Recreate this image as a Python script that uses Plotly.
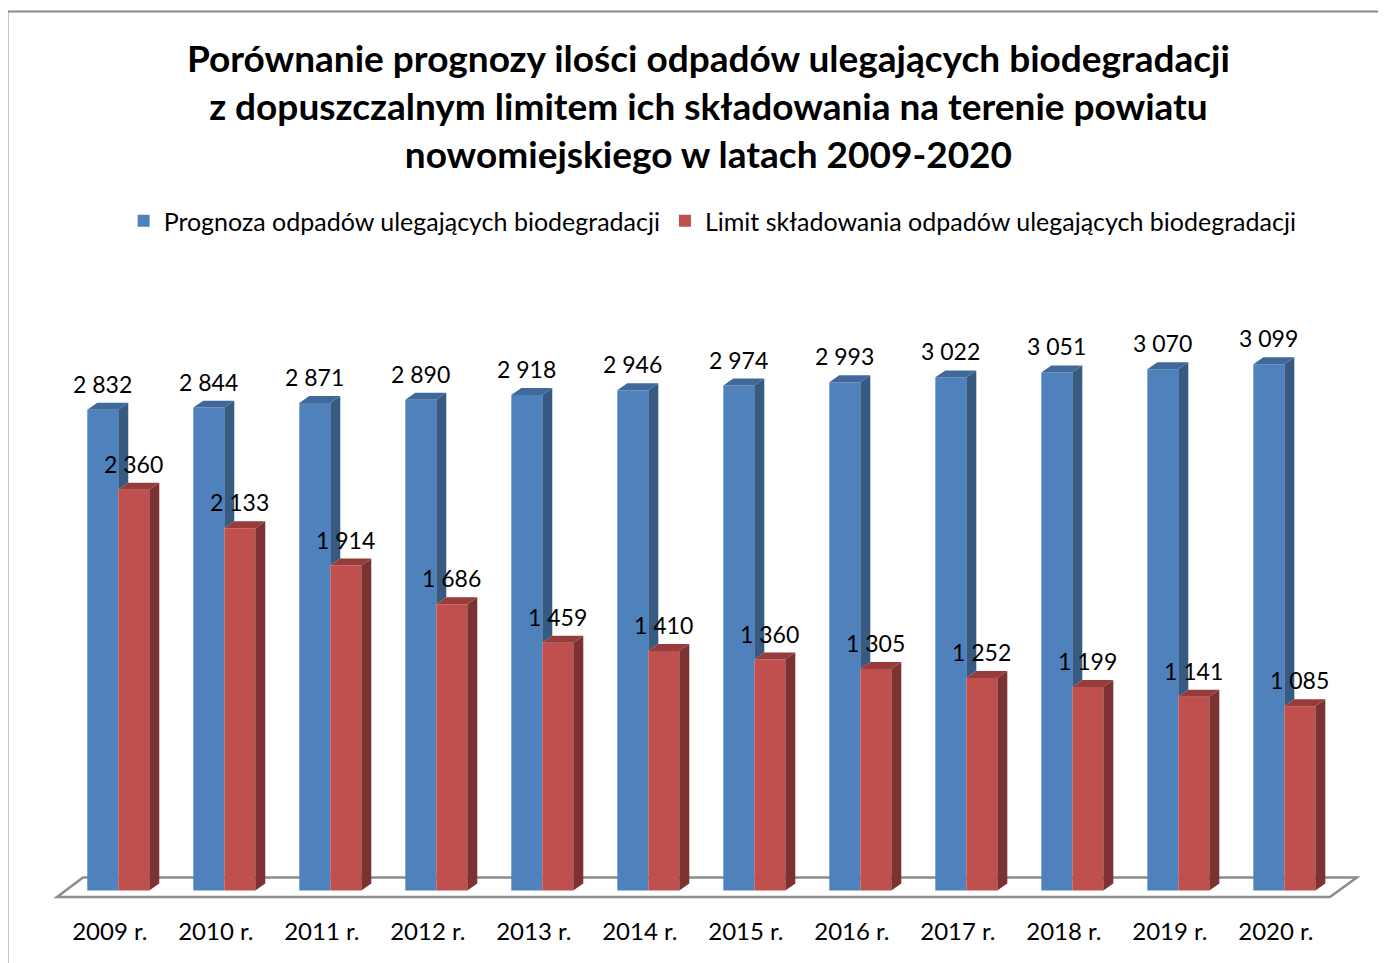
import plotly.graph_objects as go

years = ["2009 r.", "2010 r.", "2011 r.", "2012 r.", "2013 r.", "2014 r.",
         "2015 r.", "2016 r.", "2017 r.", "2018 r.", "2019 r.", "2020 r."]
prognoza = [2832, 2844, 2871, 2890, 2918, 2946, 2974, 2993, 3022, 3051, 3070, 3099]
limit = [2360, 2133, 1914, 1686, 1459, 1410, 1360, 1305, 1252, 1199, 1141, 1085]

name_blue = "Prognoza odpadów ulegających biodegradacji"
name_red = "Limit składowania odpadów ulegających biodegradacji"
title = ("Porównanie prognozy ilości odpadów ulegających biodegradacji<br>"
         "z dopuszczalnym limitem ich składowania na terenie powiatu<br>"
         "nowomiejskiego w latach 2009-2020")

FONT = "Lato"
BLUE, BLUE_TOP, BLUE_SIDE = "#4F81BD", "#40699A", "#375A82"
RED, RED_TOP, RED_SIDE = "#C0504D", "#973C3A", "#7B3230"

W = 0.2925   # bar width (category units)
DX = 0.094   # depth offset, x
DY = 41.0    # depth offset, y (value units)

idx = list(range(len(years)))


def fmt(v):
    return f"{v:,}".replace(",", " ")


def face(pts_list, color):
    xs, ys = [], []
    for pts in pts_list:
        for px, py in pts + [pts[0]]:
            xs.append(px)
            ys.append(py)
        xs.append(None)
        ys.append(None)
    return go.Scatter(x=xs, y=ys, mode="lines", fill="toself", fillcolor=color,
                      line=dict(width=0), hoverinfo="skip", showlegend=False)


fig = go.Figure()
fig.add_trace(go.Bar(x=idx, y=prognoza, offset=-W, width=W, name=name_blue,
                     marker=dict(color=BLUE, line=dict(width=0))))
fig.add_trace(go.Bar(x=idx, y=limit, offset=0, width=W, name=name_red,
                     marker=dict(color=RED, line=dict(width=0))))

# 3D side / top faces
blue_top = [[(i - W, b), (i - W + DX, b + DY), (i + DX, b + DY), (i, b)]
            for i, b in zip(idx, prognoza)]
blue_side = [[(i, min(r, b)), (i, b), (i + DX, b + DY), (i + DX, min(r, b) + DY)]
             for i, b, r in zip(idx, prognoza, limit)]
red_side = [[(i + W, 0), (i + W, r), (i + W + DX, r + DY), (i + W + DX, DY)]
            for i, r in zip(idx, limit)]
red_top = [[(i, r), (i + DX, r + DY), (i + W + DX, r + DY), (i + W, r)]
           for i, r in zip(idx, limit)]

fig.add_trace(face(blue_side, BLUE_SIDE))
fig.add_trace(face(blue_top, BLUE_TOP))
fig.add_trace(face(red_side, RED_SIDE))
fig.add_trace(face(red_top, RED_TOP))

lbl_font = dict(size=23, color="black", family=FONT)
for i, b, r in zip(idx, prognoza, limit):
    fig.add_annotation(x=i - W / 2, y=b, text=fmt(b), showarrow=False,
                       yanchor="middle", yshift=26, font=lbl_font)
    fig.add_annotation(x=i + W / 2, y=r, text=fmt(r), showarrow=False,
                       yanchor="middle", yshift=26, font=lbl_font)

# title
fig.add_annotation(text=title, xref="paper", yref="paper", x=0.4992, y=1.2366,
                   xanchor="center", yanchor="middle", showarrow=False,
                   font=dict(family=FONT, size=37, color="black", weight="bold"))

# floor of the 3D chart
fig.add_shape(type="path", xref="x", yref="y", layer="below",
              path="M -0.578,-38 L 11.43,-38 L 11.684,77 L -0.333,77 Z",
              line=dict(color="#8C8C8C", width=2.5))
# chart border (cropped)
fig.add_shape(type="rect", xref="paper", yref="paper",
              x0=-0.0322, x1=1.2, y0=-0.3, y1=1.3794,
              line=dict(color="#888888", width=2))

fig.update_layout(
    width=1386, height=963,
    paper_bgcolor="white", plot_bgcolor="white",
    barmode="overlay",
    margin=dict(l=42, r=24, t=252, b=56),
    legend=dict(orientation="h", x=0.502, xanchor="center", y=1.0595, yanchor="middle",
                font=dict(family=FONT, size=25, color="black"), itemclick=False),
    xaxis=dict(range=[-0.6443, 11.808], tickvals=[i - 0.08 for i in idx], ticktext=years,
               showgrid=False, zeroline=False, showline=False, ticks="",
               tickfont=dict(family=FONT, size=24, color="black")),
    yaxis=dict(range=[-144.3, 3713.2], visible=False),
    font=dict(family=FONT),
)

fig.write_html("out.html")
